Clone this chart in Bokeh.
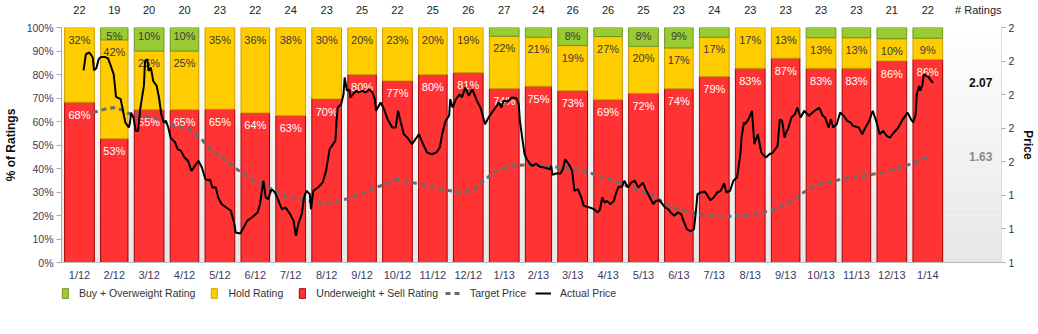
import pandas as pd
from bokeh.plotting import figure
from bokeh.layouts import column
from bokeh.models import (Range1d, LinearAxis, FixedTicker, PrintfTickFormatter,
                          Legend, LegendItem, ColumnDataSource)
from bokeh.embed import file_html
from bokeh.resources import INLINE
from bokeh.core.properties import value

# ---------------- data ----------------
months = ["1/12", "2/12", "3/12", "4/12", "5/12", "6/12", "7/12", "8/12", "9/12", "10/12",
          "11/12", "12/12", "1/13", "2/13", "3/13", "4/13", "5/13", "6/13", "7/13", "8/13",
          "9/13", "10/13", "11/13", "12/13", "1/14"]
total_ratings = [22, 19, 20, 20, 23, 22, 24, 23, 25, 22, 25, 26, 27, 24, 26, 26, 25, 23, 24, 23,
                 23, 23, 23, 21, 22]
sell_counts = [15, 10, 13, 13, 15, 14, 15, 16, 20, 17, 20, 21, 20, 18, 19, 18, 18, 17, 19, 19,
               20, 19, 19, 18, 19]
hold_counts = [7, 8, 5, 5, 8, 8, 9, 7, 5, 5, 5, 5, 6, 5, 5, 7, 5, 4, 4, 4, 3, 3, 3, 2, 2]
buy_counts = [0, 1, 2, 2, 0, 0, 0, 0, 0, 0, 0, 0, 1, 1, 2, 1, 2, 2, 1, 0, 0, 1, 1, 1, 1]

# (days since 2012-01-01, price)
actual_price = [
    (19, 2.145), (21, 2.241), (24, 2.251), (27, 2.221), (28, 2.145), (30, 2.157), (32, 2.211),
    (34, 2.225), (37, 2.225), (40, 2.217), (42, 2.181), (45, 2.121), (46, 2.052), (47, 1.987),
    (51, 1.973), (53, 1.904), (55, 1.834), (58, 1.804), (59, 1.834), (60, 1.893), (62, 1.864),
    (64, 1.784), (66, 1.784), (68, 1.923), (71, 2.052), (72, 2.201), (74, 2.211), (75, 2.142),
    (77, 2.161), (79, 2.082), (82, 2.052), (84, 1.983), (86, 1.883), (88, 1.834), (90, 1.844),
    (92, 1.804), (94, 1.744), (98, 1.715), (100, 1.675), (103, 1.665), (106, 1.625), (109, 1.606),
    (112, 1.546), (115, 1.576), (118, 1.606), (121, 1.566), (124, 1.496), (127, 1.490), (128, 1.496),
    (130, 1.447), (133, 1.447), (135, 1.387), (138, 1.347), (142, 1.328), (146, 1.308), (149, 1.228),
    (150, 1.179), (154, 1.173), (157, 1.208), (160, 1.248), (164, 1.268), (169, 1.298), (171, 1.347),
    (174, 1.487), (176, 1.387), (178, 1.377), (181, 1.437), (184, 1.417), (187, 1.367), (190, 1.317),
    (193, 1.328), (197, 1.288), (200, 1.248), (202, 1.159), (204, 1.228), (207, 1.288), (209, 1.387),
    (211, 1.427), (214, 1.407), (215, 1.317), (217, 1.427), (221, 1.447), (225, 1.476), (228, 1.546),
    (231, 1.675), (234, 1.705), (236, 1.725), (237, 1.844), (238, 1.923), (241, 1.943), (243, 2.002),
    (244, 2.102), (246, 2.023), (248, 2.032), (249, 1.983), (251, 2.002), (254, 2.023), (256, 2.013),
    (259, 2.023), (262, 2.013), (265, 2.032), (268, 2.013), (270, 1.973), (271, 1.904), (275, 1.953),
    (278, 1.913), (281, 1.853), (285, 1.804), (288, 1.804), (290, 1.904), (292, 1.844), (295, 1.764),
    (298, 1.744), (302, 1.705), (304, 1.725), (308, 1.764), (311, 1.715), (315, 1.655), (319, 1.645),
    (323, 1.655), (326, 1.685), (328, 1.764), (331, 1.844), (334, 1.874), (335, 1.973), (337, 1.923),
    (340, 1.973), (343, 2.002), (345, 1.983), (348, 2.042), (351, 1.993), (354, 2.032), (358, 1.963),
    (361, 1.923), (363, 1.874), (365, 1.824), (368, 1.864), (372, 1.904), (376, 1.943), (377, 1.953),
    (379, 1.923), (381, 1.963), (385, 1.959), (388, 1.983), (392, 1.979), (394, 1.943), (395, 1.844),
    (397, 1.744), (399, 1.645), (401, 1.615), (404, 1.585), (406, 1.576), (409, 1.590), (412, 1.570),
    (416, 1.566), (421, 1.556), (422, 1.576), (423, 1.522), (426, 1.530), (430, 1.530), (432, 1.556),
    (434, 1.615), (436, 1.596), (438, 1.576), (440, 1.546), (442, 1.427), (445, 1.437), (448, 1.387),
    (450, 1.338), (455, 1.328), (459, 1.317), (462, 1.298), (464, 1.317), (466, 1.387), (468, 1.357),
    (470, 1.367), (473, 1.347), (476, 1.367), (478, 1.417), (480, 1.451), (483, 1.451), (485, 1.487),
    (488, 1.447), (491, 1.476), (494, 1.487), (497, 1.447), (501, 1.476), (504, 1.427), (507, 1.387),
    (510, 1.347), (512, 1.367), (515, 1.371), (518, 1.347), (520, 1.328), (523, 1.317), (525, 1.298),
    (528, 1.278), (531, 1.298), (534, 1.288), (536, 1.248), (539, 1.198), (542, 1.185), (545, 1.198),
    (547, 1.328), (548, 1.407), (551, 1.417), (554, 1.423), (556, 1.407), (559, 1.371), (562, 1.387),
    (565, 1.417), (568, 1.427), (571, 1.471), (573, 1.417), (576, 1.427), (579, 1.487), (582, 1.506),
    (583, 1.546), (585, 1.645), (586, 1.744), (588, 1.834), (589, 1.824), (592, 1.853), (595, 1.904),
    (596, 1.804), (597, 1.705), (600, 1.764), (603, 1.655), (607, 1.625), (610, 1.645), (613, 1.655),
    (617, 1.695), (619, 1.853), (621, 1.844), (623, 1.744), (625, 1.784), (626, 1.794), (629, 1.864),
    (632, 1.883), (634, 1.923), (637, 1.864), (640, 1.904), (644, 1.874), (649, 1.904), (653, 1.923),
    (656, 1.874), (658, 1.864), (661, 1.804), (663, 1.853), (665, 1.804), (668, 1.824), (671, 1.893),
    (674, 1.874), (677, 1.844), (680, 1.834), (682, 1.814), (687, 1.804), (690, 1.764), (692, 1.794),
    (696, 1.844), (699, 1.904), (702, 1.844), (705, 1.764), (708, 1.784), (711, 1.755), (714, 1.744),
    (716, 1.764), (721, 1.804), (725, 1.853), (729, 1.893), (732, 1.853), (734, 1.834), (736, 1.883),
    (737, 2.002), (739, 2.052), (740, 2.023), (742, 2.062), (743, 2.121), (745, 2.112), (747, 2.106),
    (749, 2.086), (751, 2.07)]

target_price = [
    (27, 1.893), (37, 1.913), (45, 1.923), (53, 1.907), (60, 1.880), (67, 1.874), (75, 1.868),
    (85, 1.853), (93, 1.824), (105, 1.804), (113, 1.784), (122, 1.725), (125, 1.695), (133, 1.655),
    (142, 1.606), (153, 1.546), (164, 1.496), (176, 1.457), (184, 1.427), (195, 1.387), (207, 1.377),
    (218, 1.357), (227, 1.351), (238, 1.367), (249, 1.383), (264, 1.427), (275, 1.457), (289, 1.496),
    (303, 1.476), (317, 1.451), (331, 1.431), (345, 1.417), (354, 1.427), (362, 1.476), (374, 1.546),
    (388, 1.576), (402, 1.582), (416, 1.576), (430, 1.566), (445, 1.556), (459, 1.526), (473, 1.496),
    (487, 1.457), (499, 1.423), (510, 1.397), (521, 1.347), (532, 1.317), (544, 1.298), (555, 1.282),
    (569, 1.272), (583, 1.278), (597, 1.288), (612, 1.311), (625, 1.347), (637, 1.407), (651, 1.466),
    (666, 1.487), (680, 1.506), (694, 1.520), (708, 1.536), (722, 1.566), (736, 1.596), (747, 1.63)]

pct_ticks = list(range(0, 101, 10))
price_ticks = [1.0, 1.2, 1.4, 1.6, 1.8, 2.0, 2.2, 2.4]

# ---------------- styles ----------------
FONT = "Liberation Sans"
RED, RED_LINE = "#FF3333", "#A50000"
YEL, YEL_LINE = "#FFCC00", "#C9A100"
GRN, GRN_LINE = "#99CC33", "#6E9426"
TGT = "#6b6b6b"
AX_COL = "#3b3b5c"

# ---------------- derived geometry ----------------
starts = pd.date_range("2012-01-01", periods=len(months) + 1, freq="MS")
start_day = [(d - starts[0]).days for d in starts]
GAP = 2.7
left = [start_day[i] + GAP for i in range(len(months))]
right = [start_day[i + 1] - GAP for i in range(len(months))]
center = [(start_day[i] + start_day[i + 1]) / 2 for i in range(len(months))]

sell_pct = [100.0 * s / t for s, t in zip(sell_counts, total_ratings)]
hold_pct = [100.0 * h / t for h, t in zip(hold_counts, total_ratings)]
buy_pct = [100.0 * b / t for b, t in zip(buy_counts, total_ratings)]
hold_top = [s + h for s, h in zip(sell_pct, hold_pct)]
buy_top = [ht + b for ht, b in zip(hold_top, buy_pct)]

X_END = 810
p = figure(width=1038, height=284, output_backend="svg", toolbar_location=None,
           x_range=Range1d(0, X_END), y_range=Range1d(0, 100),
           min_border_left=53, min_border_right=30, min_border_top=27, min_border_bottom=22)
p.extra_y_ranges = {"price": Range1d(price_ticks[0], price_ticks[-1])}
p.outline_line_color = None
p.xgrid.visible = False
p.ygrid.visible = False
p.background_fill_color = "white"
p.border_fill_color = "white"

# background vertical gradient (white at top to light grey at bottom)
N = 40
bg_cols = []
for k in range(N):
    f = k / (N - 1)
    g = int(round(0xE6 + (0xFF - 0xE6) * f))
    bg_cols.append("#%02x%02x%02x" % (g, g, g))
p.quad(left=[0] * N, right=[X_END] * N, bottom=[100 * k / N for k in range(N)],
       top=[100 * (k + 1) / N for k in range(N)], fill_color=bg_cols, line_color=None)

# stacked bars
p.quad(left=left, right=right, bottom=[0] * len(months), top=sell_pct,
       fill_color=RED, line_color=RED_LINE, line_width=1)
p.quad(left=left, right=right, bottom=sell_pct, top=hold_top,
       fill_color=YEL, line_color=YEL_LINE, line_width=1)
bl, br, bb, bt = [], [], [], []
for i in range(len(months)):
    if buy_counts[i] > 0:
        bl.append(left[i]); br.append(right[i]); bb.append(hold_top[i]); bt.append(buy_top[i])
p.quad(left=bl, right=br, bottom=bb, top=bt, fill_color=GRN, line_color=GRN_LINE, line_width=1)

# bar labels
lx, ly, lt, lc, lo = [], [], [], [], []
for i in range(len(months)):
    lx.append(center[i]); ly.append(sell_pct[i]); lt.append("%d%%" % int(sell_pct[i] + 0.5))
    lc.append("white"); lo.append(12.5)
    if hold_pct[i] >= 5:
        lx.append(center[i]); ly.append(hold_top[i]); lt.append("%d%%" % int(hold_pct[i] + 0.5))
        lc.append("#3a3a3a"); lo.append(12)
    if buy_pct[i] >= 5:
        lx.append(center[i]); ly.append(buy_top[i]); lt.append("%d%%" % int(buy_pct[i] + 0.5))
        lc.append("#3a3a3a"); lo.append(8.5)
lab_src = ColumnDataSource(dict(x=lx, y=ly, text=lt, color=lc, off=lo))
p.text(x="x", y="y", text="text", source=lab_src, text_color="color", y_offset="off",
       text_align="center", text_baseline="middle", text_font=value(FONT),
       text_font_size="11px")

# price lines
p.line([d for d, v in target_price], [v for d, v in target_price], y_range_name="price",
       line_color=TGT, line_width=3, line_dash="5 4")
p.line([d for d, v in actual_price], [v for d, v in actual_price], y_range_name="price",
       line_color="black", line_width=2)

# end value labels
val_x = start_day[-1] + 20
p.text(x=[val_x], y=[actual_price[-1][1]], text=["%.2f" % actual_price[-1][1]],
       y_range_name="price", text_color="#111111", text_font_style="bold",
       text_font=value(FONT), text_font_size="12px", text_baseline="middle")
p.text(x=[val_x], y=[target_price[-1][1]], text=["%.2f" % target_price[-1][1]],
       y_range_name="price", text_color="#8a8a8a", text_font_style="bold",
       text_font=value(FONT), text_font_size="12px", text_baseline="middle")

# left axis
ya = p.yaxis[0]
ya.ticker = FixedTicker(ticks=pct_ticks)
ya.formatter = PrintfTickFormatter(format="%d%%")
ya.axis_label = "% of Ratings"
ya.axis_label_text_font = FONT
ya.axis_label_text_font_style = "bold"
ya.axis_label_text_font_size = "12px"
ya.axis_label_text_color = "#111111"
ya.axis_label_standoff = 6
ya.major_label_text_font = FONT
ya.major_label_text_font_size = "10.5px"
ya.major_label_text_color = AX_COL
ya.major_label_standoff = 3
ya.major_tick_in = 0
ya.major_tick_out = 5
ya.minor_tick_line_color = None
ya.major_tick_line_color = "#aaaaaa"
ya.axis_line_color = "#aaaaaa"

# bottom axis
xa = p.xaxis[0]
xa.ticker = FixedTicker(ticks=center)
xa.major_label_overrides = {c: m for c, m in zip(center, months)}
xa.major_label_text_font = FONT
xa.major_label_text_font_size = "11px"
xa.major_label_text_color = AX_COL
xa.major_label_standoff = 6
xa.major_tick_in = 0
xa.major_tick_out = 0
xa.minor_tick_line_color = None
xa.axis_line_color = "#bbbbbb"

# right axis (price)
ra = LinearAxis(y_range_name="price", ticker=FixedTicker(ticks=price_ticks),
                formatter=PrintfTickFormatter(format="%.0f"), axis_label="Price")
ra.axis_label_text_font = FONT
ra.axis_label_text_font_style = "bold"
ra.axis_label_text_font_size = "12px"
ra.axis_label_text_color = "#111111"
ra.axis_label_standoff = 4
ra.major_label_text_font = FONT
ra.major_label_text_font_size = "10.5px"
ra.major_label_text_color = "#333333"
ra.major_label_standoff = 3
ra.major_tick_in = 0
ra.major_tick_out = 4
ra.minor_tick_line_color = None
ra.major_tick_line_color = "#aaaaaa"
ra.axis_line_color = "#dddddd"
p.add_layout(ra, "right")

# top axis: number of ratings per month
title_day = 790
ta = LinearAxis(ticker=FixedTicker(ticks=center + [title_day]))
overrides = {c: str(n) for c, n in zip(center, total_ratings)}
overrides[title_day] = "# Ratings"
ta.major_label_overrides = overrides
ta.major_label_text_font = FONT
ta.major_label_text_font_size = "11px"
ta.major_label_text_color = "#222222"
ta.major_label_standoff = 12
ta.major_tick_in = 0
ta.major_tick_out = 0
ta.minor_tick_line_color = None
ta.axis_line_color = None
p.add_layout(ta, "above")

# ---------------- legend strip ----------------
lg = figure(width=1038, height=50, output_backend="svg", toolbar_location=None,
            x_range=Range1d(0, 1), y_range=Range1d(0, 1),
            x_axis_location=None, y_axis_location=None, min_border=0)
lg.outline_line_color = None
lg.xgrid.visible = False
lg.ygrid.visible = False
# legend swatches: renderers kept outside the strip's visible range
off = dict(left=[5], right=[6], bottom=[5], top=[6])
r_buy = lg.quad(**off, fill_color=GRN, line_color=GRN_LINE)
r_hold = lg.quad(**off, fill_color=YEL, line_color=YEL_LINE)
r_sell = lg.quad(**off, fill_color=RED, line_color=RED_LINE)
r_tgt = lg.line(x=[5, 6], y=[5, 6], line_color=TGT, line_width=3, line_dash="5 4")
r_act = lg.line(x=[5, 6], y=[5, 6], line_color="black", line_width=2)

common = dict(orientation="horizontal", padding=0, margin=0, label_height=12, glyph_height=12,
              border_line_color=None, background_fill_alpha=0, label_text_font=FONT,
              label_text_font_size="10.5px", label_text_color="#333333")
leg1 = Legend(items=[LegendItem(label="Buy + Overweight Rating", renderers=[r_buy]),
                     LegendItem(label="Hold Rating", renderers=[r_hold]),
                     LegendItem(label="Underweight + Sell Rating", renderers=[r_sell])],
              location=(0, 35), glyph_width=8, label_standoff=10, spacing=15, **common)
leg2 = Legend(items=[LegendItem(label="Target Price", renderers=[r_tgt]),
                     LegendItem(label="Actual Price", renderers=[r_act])],
              location=(384, 35), glyph_width=16, label_standoff=9, spacing=9, **common)
lg.add_layout(leg1)
lg.add_layout(leg2)

open("out.html", "w").write(file_html(column(p, lg, spacing=0), INLINE))
